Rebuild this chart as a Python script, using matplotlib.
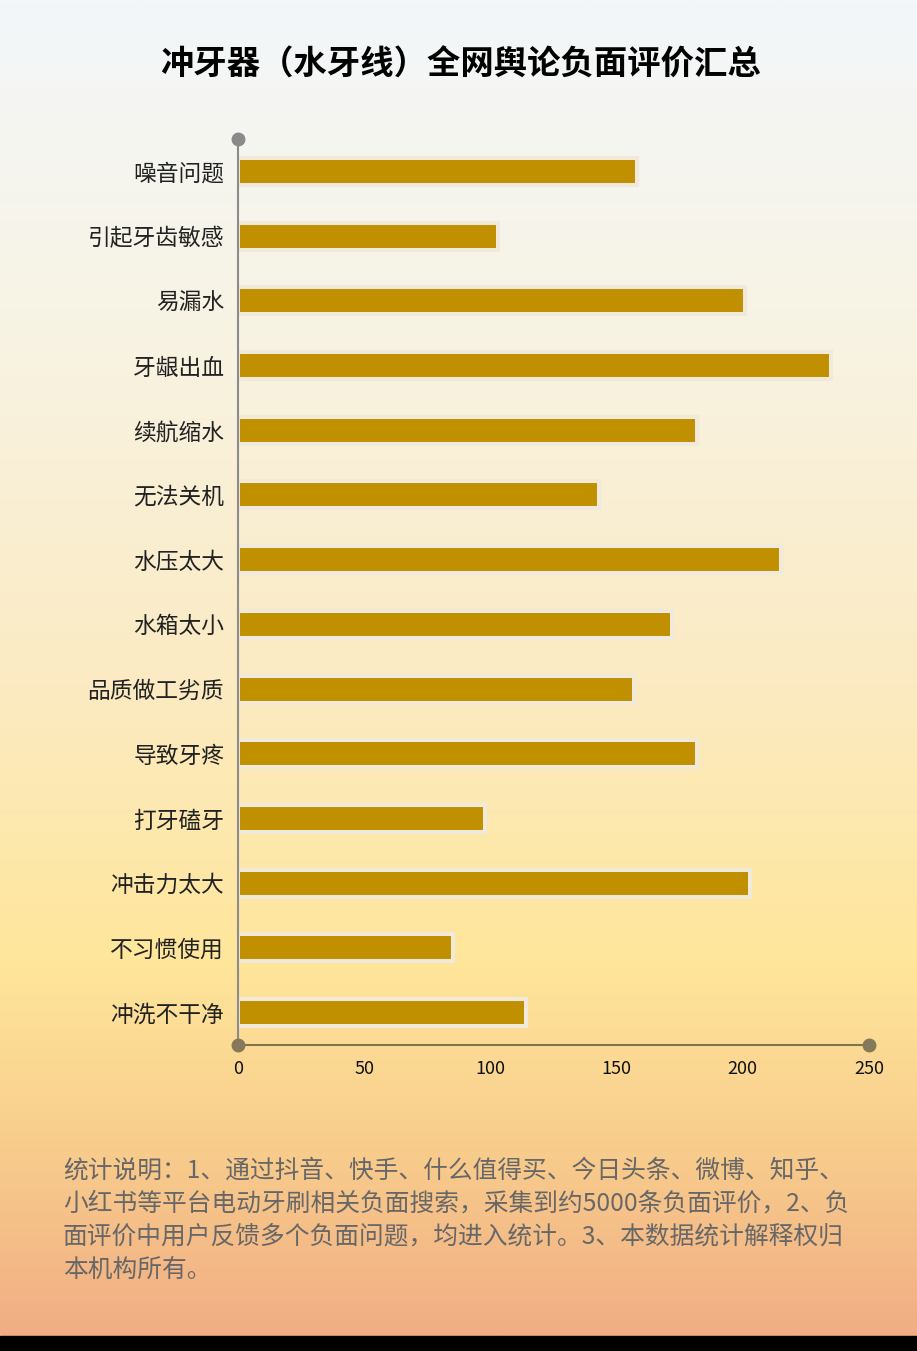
import numpy as np
import matplotlib.pyplot as plt
from matplotlib.colors import LinearSegmentedColormap
from matplotlib.patches import Rectangle

plt.rcParams['font.family'] = ['Noto Sans CJK SC', 'DejaVu Sans']

# 数据
categories = ['噪音问题', '引起牙齿敏感', '易漏水', '牙龈出血', '续航缩水', '无法关机', '水压太大',
              '水箱太小', '品质做工劣质', '导致牙疼', '打牙磕牙', '冲击力太大', '不习惯使用', '冲洗不干净']
counts = [158, 103, 201, 235, 182, 143, 215, 172, 157, 182, 98, 203, 85, 114]
x_ticks = [0, 50, 100, 150, 200, 250]

title = '冲牙器（水牙线）全网舆论负面评价汇总'
note_lines = ['统计说明：1、通过抖音、快手、什么值得买、今日头条、微博、知乎、',
              '小红书等平台电动牙刷相关负面搜索，采集到约5000条负面评价，2、负',
              '面评价中用户反馈多个负面问题，均进入统计。3、本数据统计解释权归',
              '本机构所有。']

W, H = 917, 1351
band = 15  # 底部黑条高度(px)
fig = plt.figure(figsize=(W / 100, H / 100), dpi=100)

# 背景渐变
grad = LinearSegmentedColormap.from_list('bg', [
    (0.0, '#f3f7fa'), (0.25, '#f8f3e3'), (0.5, '#fbebc4'),
    (0.72, '#ffe69b'), (0.86, '#f8cd8c'), (1.0, '#f1ad84')])
rgb = grad(np.linspace(0, 1, 512))[:, :3].reshape(-1, 1, 3)
bg = fig.add_axes([0, band / H, 1, 1 - band / H], zorder=-10)
bg.imshow(rgb, aspect='auto', extent=[0, 1, 0, 1], interpolation='bilinear')
bg.axis('off')
fig.patches.append(Rectangle((0, 0), 1, band / H, transform=fig.transFigure,
                             color='black', zorder=-5))

# 主图
left, right = 238 / W, 869 / W
top, bottom = 1 - 139 / H, 1 - 1045 / H
ax = fig.add_axes([left, bottom, right - left, top - bottom])
ax.set_facecolor('none')

y = np.arange(len(categories))
ax.barh(y, counts, height=0.417, color='#c09000', edgecolor='#f1eadb', linewidth=2.9, zorder=2)

ax.set_xlim(0, 250)
ax.set_ylim(len(categories) - 0.5, -0.5)
ax.set_yticks(y)
ax.set_yticklabels(categories, fontsize=16.4, color='#222222')
ax.set_xticks(x_ticks)
ax.set_xticklabels([str(t) for t in x_ticks], fontsize=13, color='#111111')
ax.tick_params(axis='y', length=0, pad=10)
ax.tick_params(axis='x', length=0, pad=11)

for s in ['top', 'right']:
    ax.spines[s].set_visible(False)
ax.spines['left'].set_color('#8c8c8c')
ax.spines['left'].set_linewidth(1.5)
ax.spines['left'].set_zorder(3)
ax.spines['bottom'].set_color('#80744f')
ax.spines['bottom'].set_linewidth(1.5)
ax.spines['bottom'].set_zorder(3)

# 轴端圆点
ax.plot([0], [1], 'o', ms=9, color='#8a8a8a', transform=ax.transAxes, clip_on=False, zorder=4)
ax.plot([0, 1], [0, 0], 'o', ms=9, color='#85795a', transform=ax.transAxes, clip_on=False, zorder=4)

fig.text(461 / W, 1 - 65 / H, title, ha='center', va='center', fontsize=24,
         fontweight='bold', color='#000000')

for i, line in enumerate(note_lines):
    fig.text(63 / W, 1 - (1171 + 33 * i) / H, line, ha='left', va='center',
             fontsize=17.8, color='#676767')

fig.savefig('out.png', dpi=100)
